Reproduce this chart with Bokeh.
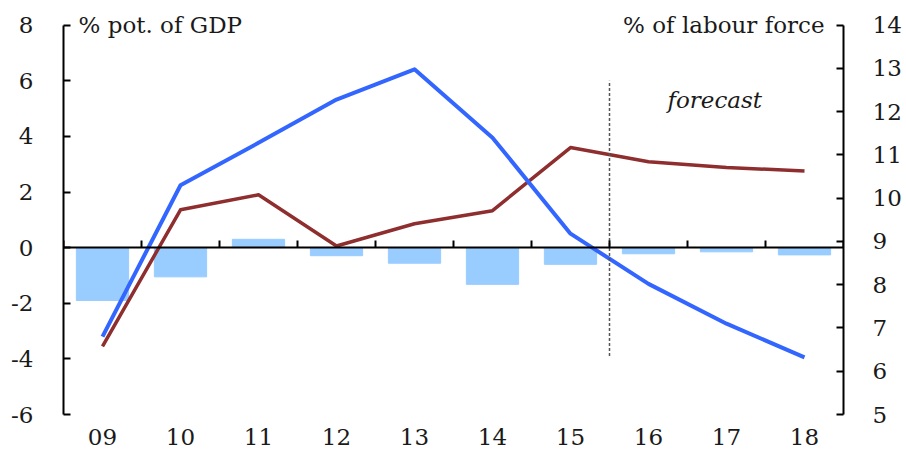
from bokeh.plotting import figure
from bokeh.models import Range1d, LinearAxis, FixedTicker, Label, CustomJSTickFormatter
from bokeh.embed import file_html
from bokeh.resources import INLINE

# ---- data ----
years = ["09", "10", "11", "12", "13", "14", "15", "16", "17", "18"]
bars_gdp = [-1.9, -1.05, 0.3, -0.29, -0.56, -1.32, -0.6, -0.22, -0.15, -0.26]
red_gdp = [-3.55, 1.36, 1.9, 0.06, 0.86, 1.33, 3.6, 3.09, 2.88, 2.76]
blue_lab = [6.8, 10.3, 11.28, 12.28, 12.98, 11.4, 9.18, 8.02, 7.1, 6.32]
left_ticks = [-6, -4, -2, 0, 2, 4, 6, 8]
right_ticks = [5, 6, 7, 8, 9, 10, 11, 12, 13, 14]
forecast_from = "16"
left_title = "% pot. of GDP"
right_title = "% of labour force"
forecast_text = "forecast"

FONT = "DejaVu Serif"
FS = "23px"
TXT = "#1a1a1a"

n = len(years)
xc = [i + 0.5 for i in range(n)]  # category centres on a numeric scale

L0, L1 = left_ticks[0], left_ticks[-1]
R0, R1 = right_ticks[0], right_ticks[-1]
pad = 0.6  # headroom above the axes (in left-axis units) so the titles are not clipped
rpad = pad * (R1 - R0) / (L1 - L0)

p = figure(width=904, height=448, x_range=Range1d(0, n), y_range=Range1d(L0, L1 + pad),
           output_backend="svg", toolbar_location=None,
           min_border_left=63, min_border_right=60, min_border_top=8, min_border_bottom=34)
p.extra_y_ranges = {"lab": Range1d(R0, R1 + rpad)}
p.xgrid.visible = False
p.ygrid.visible = False
p.outline_line_color = None
p.background_fill_color = "white"
p.border_fill_color = "white"

# bottom category labels
xa = p.xaxis[0]
xa.ticker = FixedTicker(ticks=xc)
xa.formatter = CustomJSTickFormatter(args=dict(labels=years),
                                     code="return labels[Math.floor(tick)];")
xa.axis_line_color = None
xa.major_tick_line_color = None
xa.minor_tick_line_color = None
xa.major_label_text_font = FONT
xa.major_label_text_font_size = FS
xa.major_label_text_color = TXT
xa.major_label_standoff = 8

# zero line with boundary ticks
zax = LinearAxis(fixed_location=0,
                 ticker=FixedTicker(ticks=list(range(0, n + 1))),
                 major_tick_in=7, major_tick_out=0, minor_tick_line_color=None,
                 major_label_text_alpha=0, major_label_text_font_size="8px",
                 axis_line_width=2, axis_line_color="black", major_tick_line_width=2)
p.add_layout(zax, "below")

# left axis
ya = p.yaxis[0]
ya.ticker = FixedTicker(ticks=left_ticks)
ya.bounds = (L0, L1)
ya.formatter = CustomJSTickFormatter(code="return String(tick);")
ya.major_tick_in = 7
ya.major_tick_out = 0
ya.minor_tick_line_color = None
ya.axis_line_width = 2
ya.major_tick_line_width = 2
ya.major_label_standoff = 30
ya.major_label_text_font = FONT
ya.major_label_text_font_size = FS
ya.major_label_text_color = TXT

# right axis
ra = LinearAxis(y_range_name="lab", ticker=FixedTicker(ticks=right_ticks),
                bounds=(R0, R1),
                formatter=CustomJSTickFormatter(code="return String(tick);"),
                major_tick_in=7, major_tick_out=0, minor_tick_line_color=None,
                axis_line_width=2, major_tick_line_width=2, major_label_standoff=29,
                major_label_text_font=FONT, major_label_text_font_size=FS,
                major_label_text_color=TXT)
p.add_layout(ra, "right")

# bars
p.vbar(x=xc, top=bars_gdp, bottom=0, width=0.67, color="#99CCFF")

# lines
p.line(x=xc, y=red_gdp, line_color="#8E2E2E", line_width=3.5, line_join="round")
p.line(x=xc, y=blue_lab, y_range_name="lab", line_color="#3366FF", line_width=4,
       line_join="round")

# forecast divider
b = years.index(forecast_from)
p.segment(x0=[b], y0=[-3.9], x1=[b], y1=[6.0],
          line_dash="3 2", line_color="#555555", line_width=1.5)

p.add_layout(Label(x=b + 1.35, y=5.3, text=forecast_text,
                   text_font=FONT, text_font_style="italic", text_font_size=FS,
                   text_color=TXT, text_align="center", text_baseline="middle"))
p.add_layout(Label(x=0, y=L1, x_offset=15, text=left_title,
                   text_font=FONT, text_font_size=FS, text_color=TXT,
                   text_align="left", text_baseline="middle"))
p.add_layout(Label(x=n, y=L1, x_offset=-19, text=right_title,
                   text_font=FONT, text_font_size=FS, text_color=TXT,
                   text_align="right", text_baseline="middle"))

open("out.html", "w").write(file_html(p, INLINE))
